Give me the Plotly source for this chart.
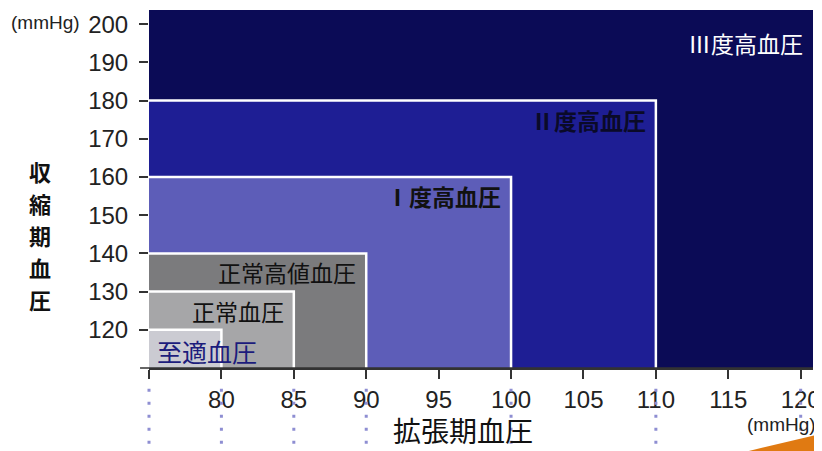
import plotly.graph_objects as go

# --- data ---
categories = ["至適血圧", "正常血圧", "正常高値血圧", "Ⅰ度高血圧", "Ⅱ度高血圧", "Ⅲ度高血圧"]
dbp_upper = [80, 85, 90, 100, 110, None]      # 拡張期血圧 upper bound (mmHg)
sbp_upper = [120, 130, 140, 160, 180, 200]     # 収縮期血圧 upper bound (mmHg)
fill_colors = ["#cbcbd2", "#a6a6a8", "#7b7b7d", "#5d5db8", "#1e1e94", "#0b0b56"]
label_colors = ["#1c1c7c", "#111111", "#111111", "#111111", "#0a0a28", "#ffffff"]
x_ticks = [75, 80, 85, 90, 95, 100, 105, 110, 115, 120]
x_tick_labels = ["", "80", "85", "90", "95", "100", "105", "110", "115", "120"]
y_ticks = [120, 130, 140, 150, 160, 170, 180, 190, 200]
guide_x = [75, 80, 85, 90, 100, 110, 120]
y_title = "収縮期血圧"
x_title = "拡張期血圧"
unit = "(mmHg)"

X_MIN, X_MAX = 75, 120.85
Y_MIN, Y_MAX = 110, 203.7

CJK = "Noto Sans CJK JP"
NUM = "Liberation Sans"

fig = go.Figure()
# invisible trace so the axes render
fig.add_trace(go.Scatter(x=[X_MIN, X_MAX], y=[Y_MIN, Y_MAX], mode="markers",
                         marker=dict(opacity=0), hoverinfo="skip", showlegend=False))

shapes = []
annotations = []
# draw largest region first
for i in reversed(range(len(categories))):
    full = dbp_upper[i] is None
    x1 = X_MAX + 2 if full else dbp_upper[i]
    y1 = Y_MAX + 2 if full else sbp_upper[i]
    shapes.append(dict(type="rect", xref="x", yref="y", layer="below",
                       x0=X_MIN - 2, y0=Y_MIN - 2, x1=x1, y1=y1,
                       fillcolor=fill_colors[i],
                       line=dict(color="white", width=0 if full else 2.5)))

for i, name in enumerate(categories):
    bold = i in (3, 4)
    txt = f"<b>{name}</b>" if bold else name
    if i == 0:
        annotations.append(dict(x=X_MIN, y=sbp_upper[i], xref="x", yref="y",
                                text=txt, showarrow=False, xanchor="left", yanchor="middle",
                                xshift=6, yshift=-21,
                                font=dict(family=CJK, size=25, color=label_colors[i])))
    else:
        xr = X_MAX if dbp_upper[i] is None else dbp_upper[i]
        annotations.append(dict(x=xr, y=sbp_upper[i], xref="x", yref="y",
                                text=txt, showarrow=False, xanchor="right", yanchor="middle",
                                xshift=-8, yshift=-19,
                                font=dict(family=CJK, size=23, color=label_colors[i])))

# dotted guides below the x axis (paper x derived from the data x so they are not clipped)
for gx in guide_x:
    px = (gx - X_MIN) / (X_MAX - X_MIN)
    shapes.append(dict(type="line", xref="paper", yref="paper", layer="above",
                       x0=px, x1=px, y0=-0.058, y1=-0.225,
                       line=dict(color="#8e8ed2", width=3, dash="3px,10px")))

# x axis line extended to the left
shapes.append(dict(type="line", xref="paper", yref="paper", layer="above",
                   x0=-0.0135, x1=1.0, y0=0, y1=0,
                   line=dict(color="#333333", width=1.6)))

# decorative orange corner
shapes.append(dict(type="path", xref="paper", yref="paper", layer="above",
                   path="M 0.885,-0.24 L 1.02,-0.18 L 1.02,-0.24 Z",
                   fillcolor="#e07a12", line=dict(width=0)))

# unit labels and titles
annotations += [
    dict(x=-0.2105, y=0.964, xref="paper", yref="paper", text=unit, showarrow=False,
         xanchor="left", yanchor="middle",
         font=dict(family=NUM, size=19, color="#222222")),
    dict(x=1.0075, y=-0.159, xref="paper", yref="paper", text=unit, showarrow=False,
         xanchor="right", yanchor="middle",
         font=dict(family=NUM, size=19, color="#222222")),
    dict(x=0.473, y=-0.1745, xref="paper", yref="paper", text=x_title, showarrow=False,
         xanchor="center", yanchor="middle",
         font=dict(family=CJK, size=28, color="#111111")),
]
for k, ch in enumerate(y_title):
    py = 171 + 32 * k          # page pixel centre of each stacked character
    annotations.append(dict(x=-0.164, y=(368 - py) / 358, xref="paper", yref="paper",
                            text=f"<b>{ch}</b>", showarrow=False,
                            xanchor="center", yanchor="middle",
                            font=dict(family=CJK, size=22, color="#111111")))

fig.update_layout(
    width=814, height=443,
    margin=dict(l=141, r=9, t=2, b=83),
    paper_bgcolor="white", plot_bgcolor="white",
    shapes=shapes, annotations=annotations,
    showlegend=False,
    xaxis=dict(range=[X_MIN, X_MAX], tickvals=x_ticks, ticktext=x_tick_labels,
               ticks="outside", ticklen=9, tickwidth=1.5, tickcolor="#333333",
               showline=True, linecolor="#333333", linewidth=1.6,
               showgrid=False, zeroline=False, fixedrange=True,
               tickfont=dict(family=NUM, size=24, color="#222222")),
    yaxis=dict(range=[Y_MIN, Y_MAX], tickvals=y_ticks,
               ticks="outside", ticklen=9, tickwidth=1.5, tickcolor="#333333",
               showline=False, showgrid=False, zeroline=False, fixedrange=True,
               ticklabelstandoff=6,
               tickfont=dict(family=NUM, size=24, color="#222222")),
)

fig.write_html("out.html")
